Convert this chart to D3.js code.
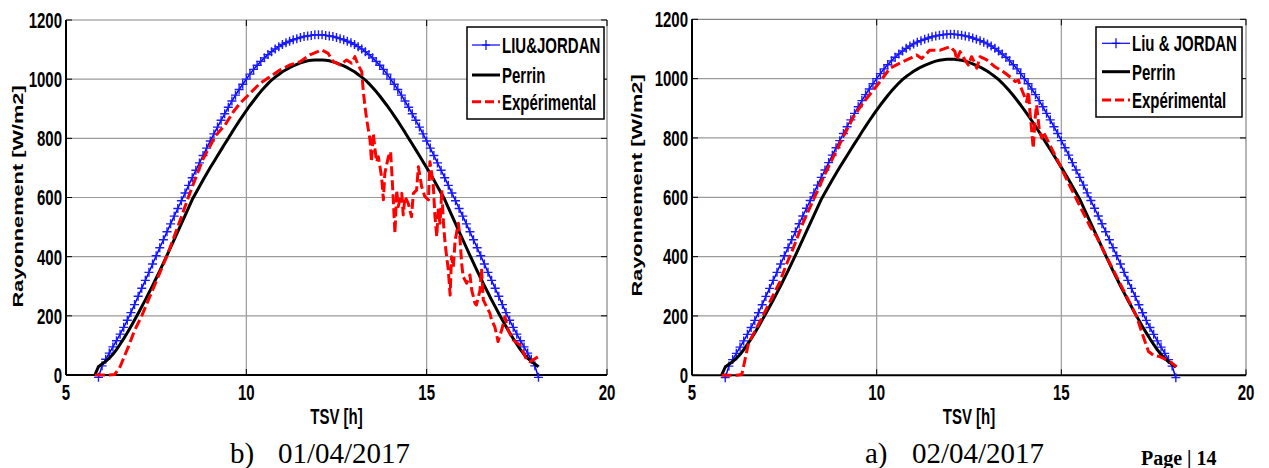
<!DOCTYPE html>
<html>
<head>
<meta charset="utf-8">
<script src="https://cdn.jsdelivr.net/npm/d3@7"></script>
<style>
  body { margin: 0; background: #ffffff; }
  svg { display: block; }
</style>
</head>
<body>
<svg id="fig" width="1269" height="468"></svg>
<script>
// ---- Data -----------------------------------------------------------------
// Solar time grid of the two models (h)
const hours = [
  5.8, 5.9, 6.0, 6.1, 6.2, 6.3, 6.4, 6.5, 6.6, 6.7, 6.8, 6.9,
  7.0, 7.1, 7.2, 7.3, 7.4, 7.5, 7.6, 7.7, 7.8, 7.9,
  8.0, 8.1, 8.2, 8.3, 8.4, 8.5, 8.6, 8.7, 8.8, 8.9,
  9.0, 9.1, 9.2, 9.3, 9.4, 9.5, 9.6, 9.7, 9.8, 9.9,
  10.0, 10.1, 10.2, 10.3, 10.4, 10.5, 10.6, 10.7, 10.8, 10.9,
  11.0, 11.1, 11.2, 11.3, 11.4, 11.5, 11.6, 11.7, 11.8, 11.9,
  12.0, 12.1, 12.2, 12.3, 12.4, 12.5, 12.6, 12.7, 12.8, 12.9,
  13.0, 13.1, 13.2, 13.3, 13.4, 13.5, 13.6, 13.7, 13.8, 13.9,
  14.0, 14.1, 14.2, 14.3, 14.4, 14.5, 14.6, 14.7, 14.8, 14.9,
  15.0, 15.1, 15.2, 15.3, 15.4, 15.5, 15.6, 15.7, 15.8, 15.9,
  16.0, 16.1, 16.2, 16.3, 16.4, 16.5, 16.6, 16.7, 16.8, 16.9,
  17.0, 17.1, 17.2, 17.3, 17.4, 17.5, 17.6, 17.7, 17.8, 17.9,
  18.0, 18.1
];

// Liu & Jordan model (W/m2)
const liuJordan = [
  null, -8, 31, 53, 74, 95, 116, 138, 161, 185, 211,
  238, 266, 293, 320, 347, 375, 403, 430, 457, 484,
  511, 537, 563, 589, 615, 641, 667, 692, 717, 742,
  767, 791, 815, 838, 861, 883, 905, 926, 946, 965,
  983, 1000, 1017, 1033, 1047, 1060, 1072, 1083, 1093, 1102,
  1110, 1117, 1123, 1128, 1133, 1137, 1141, 1144, 1146, 1148,
  1150, 1150,
  1150, 1148, 1146, 1144, 1141, 1137, 1133, 1128, 1123, 1117,
  1110, 1102, 1093, 1083, 1072, 1060, 1047, 1033, 1017, 1000,
  983, 965, 946, 926, 905, 883, 861, 838, 815, 791,
  767, 742, 717, 692, 667, 641, 615, 589, 563, 537,
  511, 484, 457, 430, 403, 375, 347, 320, 293, 266,
  238, 211, 185, 161, 138, 116, 95, 74, 53, 31, -8
];

// Perrin model (W/m2)
const perrin = [
  0, 28, 37, 46, 57, 70, 86, 104, 123, 143, 164,
  186, 208, 231, 254, 278, 302, 327, 352, 378, 404,
  431, 458, 485, 512, 539, 566, 593, 615, 637, 659,
  680, 701, 721, 741, 761, 781, 800, 820, 839, 858,
  876, 894, 911, 927, 943, 958, 972, 985, 997, 1007,
  1016, 1025, 1032, 1039, 1045, 1050, 1055, 1059, 1062, 1064,
  1065, 1065,
  1065, 1064, 1062, 1059, 1055, 1050, 1045, 1039, 1032, 1025,
  1016, 1007, 997, 985, 972, 958, 943, 927, 911, 894,
  876, 858, 839, 820, 800, 781, 761, 741, 721, 701,
  680, 659, 637, 615, 593, 566, 539, 512, 485, 458,
  431, 404, 378, 352, 327, 302, 278, 254, 231, 208,
  186, 164, 143, 123, 104, 86, 70, 57, 46, 37, 28
];

// Measurements, 01/04/2017
const hours0104 = [
  5.80, 6.00, 6.20, 6.35, 6.50, 6.73, 6.90, 7.10, 7.30, 7.50, 7.79, 8.00,
  8.20, 8.39, 8.60, 8.80, 9.00, 9.13, 9.41, 9.64, 9.82, 10.10, 10.38, 10.66,
  10.93, 11.21, 11.49, 11.76, 12.09, 12.27, 12.41, 12.60, 12.78, 12.92, 13.01, 13.10,
  13.20, 13.24, 13.29, 13.34, 13.43, 13.47, 13.52, 13.57, 13.61, 13.66, 13.75, 13.80,
  13.84, 13.94, 14.00, 14.03, 14.07, 14.12, 14.17, 14.21, 14.31, 14.35, 14.40, 14.49,
  14.58, 14.63, 14.72, 14.77, 14.86, 14.95, 15.05, 15.09, 15.18, 15.23, 15.28, 15.32,
  15.37, 15.42, 15.46, 15.51, 15.60, 15.65, 15.69, 15.74, 15.79, 15.88, 15.92, 15.97,
  16.01, 16.11, 16.20, 16.25, 16.34, 16.38, 16.48, 16.52, 16.57, 16.66, 16.75, 16.80,
  16.89, 16.98, 17.08, 17.17, 17.26, 17.40, 17.59, 17.77, 17.86, 17.95, 18.09
];
const exp0104 = [
  0, 0, 0, 2, 28, 96, 150, 200, 258, 316, 400, 468,
  535, 600, 668, 730, 775, 806, 845, 890, 918, 952, 986, 1008,
  1031, 1048, 1059, 1082, 1099, 1087, 1059, 1048, 1065, 1054, 1076, 1048,
  1025, 963, 907, 862, 794, 721, 817, 761, 721, 738, 670, 592,
  682, 738, 755, 693, 603, 479, 625, 569, 614, 541, 603, 580,
  535, 614, 625, 704, 637, 603, 592, 721, 648, 535, 468, 558,
  513, 625, 524, 445, 355, 270, 400, 366, 456, 513, 468, 378,
  333, 310, 338, 287, 242, 237, 287, 360, 254, 231, 210, 186,
  163, 113, 152, 197, 152, 118, 101, 51, 45, 51, 62
];

// Measurements, 02/04/2017
const hours0204 = [
  5.80, 6.00, 6.20, 6.35, 6.53, 6.75, 6.93, 7.15, 7.38, 7.55, 7.74, 8.00,
  8.28, 8.55, 8.83, 9.10, 9.37, 9.64, 9.91, 10.09, 10.36, 10.63, 10.90, 11.08,
  11.22, 11.44, 11.72, 11.99, 12.12, 12.17, 12.26, 12.39, 12.48, 12.57, 12.66, 12.71,
  12.80, 12.98, 13.20, 13.43, 13.66, 13.75, 13.84, 13.88, 13.97, 14.06, 14.11, 14.15,
  14.20, 14.24, 14.29, 14.33, 14.40, 14.47, 14.51, 14.60, 14.69, 14.83, 14.96, 15.05,
  15.24, 15.42, 15.60, 15.78, 15.96, 16.14, 16.50, 16.77, 17.04, 17.22, 17.36, 17.49,
  17.67, 17.94, 18.12
];
const exp0204 = [
  0, 0, 0, 3, 108, 160, 203, 258, 316, 372, 428, 512,
  590, 665, 737, 805, 871, 920, 961, 990, 1035, 1052, 1068, 1080,
  1068, 1096, 1096, 1108, 1091, 1063, 1091, 1063, 1046, 1074, 1052, 1035,
  1074, 1063, 1040, 1023, 1001, 990, 995, 978, 950, 922, 956, 888,
  821, 765, 866, 911, 832, 799, 821, 799, 776, 742, 709, 685,
  636, 591, 546, 501, 466, 420, 332, 265, 197, 130, 80, 68,
  63, 46, 29
];

const xTicks = [5, 10, 15, 20];
const yTicks = [0, 200, 400, 600, 800, 1000, 1200];
const legendLeft = ["LIU&JORDAN", "Perrin", "Expérimental"];
const legendRight = ["Liu & JORDAN", "Perrin", "Expérimental"];
const captionLetters = ["b)", "a)"];
const captionDates = ["01/04/2017", "02/04/2017"];
const xTitle = "TSV [h]";
const yTitle = "Rayonnement [W/m2]";
const footer = "Page | 14";

// ---- Drawing ----------------------------------------------------------------
const svg = d3.select("#fig");
const SANS = "'Liberation Sans', Arial, Helvetica, sans-serif";
const SERIF = "'Liberation Serif', 'Times New Roman', serif";
const STRETCH = 1.45;   // the figure text is drawn tall and narrow

function tallText(g, x, y, str, anchor, dy) {
  return g.append("text")
    .attr("transform", `translate(${x},${y}) scale(1,${STRETCH})`)
    .attr("text-anchor", anchor)
    .attr("dy", dy || 0)
    .attr("font-family", SANS)
    .attr("font-weight", "bold")
    .attr("font-size", 15)
    .attr("fill", "#000")
    .text(str);
}

const panels = [
  {
    left: 66, right: 607, top: 20, bottom: 375,
    expHours: hours0104, exp: exp0104, legend: legendLeft,
    box: { x: 467, y: 27, w: 137, h: 92, rows: [45, 75, 101.7], sx0: 472, sx1: 500, tx: 502 },
    yTitle: { x: 23, y: 196.5 }, xTitleY: 424,
    caption: { lx: 230, dx: 278, y: 463 }
  },
  {
    left: 692, right: 1246, top: 19.3, bottom: 375.3,
    expHours: hours0204, exp: exp0204, legend: legendRight,
    box: { x: 1096, y: 27, w: 146, h: 90, rows: [43.3, 71.7, 100], sx0: 1102, sx1: 1130, tx: 1132 },
    yTitle: { x: 641.7, y: 185.5 }, xTitleY: 424,
    caption: { lx: 865, dx: 912, y: 463 }
  }
];

const PLUS = "M-4.5,0H4.5M0,-4.5V4.5";

panels.forEach((p, i) => {
  const g = svg.append("g");
  const x = d3.scaleLinear().domain([5, 20]).range([p.left, p.right]);
  const y = d3.scaleLinear().domain([0, 1200]).range([p.bottom, p.top]);

  // grid
  g.append("g").selectAll("line").data(xTicks.slice(1, -1)).join("line")
    .attr("x1", d => x(d)).attr("x2", d => x(d))
    .attr("y1", p.top).attr("y2", p.bottom)
    .attr("stroke", "#9a9a9a").attr("stroke-width", 1.2);
  g.append("g").selectAll("line").data(yTicks.slice(1, -1)).join("line")
    .attr("x1", p.left).attr("x2", p.right)
    .attr("y1", d => y(d)).attr("y2", d => y(d))
    .attr("stroke", "#9a9a9a").attr("stroke-width", 1.2);

  // frame: top and right in grey, axes in black
  g.append("line").attr("x1", p.left).attr("x2", p.right).attr("y1", p.top).attr("y2", p.top)
    .attr("stroke", "#858585").attr("stroke-width", 1.2);
  g.append("line").attr("x1", p.right).attr("x2", p.right).attr("y1", p.top).attr("y2", p.bottom)
    .attr("stroke", "#858585").attr("stroke-width", 1.2);

  // inward tick marks on all four sides
  const tk = g.append("g").attr("stroke", "#000").attr("stroke-width", 1);
  xTicks.forEach(v => {
    tk.append("line").attr("x1", x(v)).attr("x2", x(v)).attr("y1", p.bottom).attr("y2", p.bottom - 6);
    tk.append("line").attr("x1", x(v)).attr("x2", x(v)).attr("y1", p.top).attr("y2", p.top + 6);
  });
  yTicks.forEach(v => {
    tk.append("line").attr("x1", p.left).attr("x2", p.left + 6).attr("y1", y(v)).attr("y2", y(v));
    tk.append("line").attr("x1", p.right).attr("x2", p.right - 6).attr("y1", y(v)).attr("y2", y(v));
  });

  g.append("line").attr("x1", p.left).attr("x2", p.left).attr("y1", p.top).attr("y2", p.bottom)
    .attr("stroke", "#000").attr("stroke-width", 2);
  g.append("line").attr("x1", p.left).attr("x2", p.right).attr("y1", p.bottom).attr("y2", p.bottom)
    .attr("stroke", "#000").attr("stroke-width", 2);

  // tick labels
  yTicks.forEach(v => tallText(g, p.left - 4, y(v), String(v), "end", "0.36em"));
  xTicks.forEach(v => tallText(g, x(v), 400, String(v), "middle"));

  // axis titles
  tallText(g, (p.left + p.right) / 2, p.xTitleY, xTitle, "middle");
  g.append("text")
    .attr("transform", `translate(${p.yTitle.x},${p.yTitle.y}) rotate(-90) scale(${STRETCH},1)`)
    .attr("text-anchor", "middle")
    .attr("font-family", SANS).attr("font-weight", "bold").attr("font-size", 15)
    .text(yTitle);

  // series
  const liuPts = hours.map((h, k) => [h, liuJordan[k]]).filter(d => d[1] !== null);
  const perPts = hours.map((h, k) => [h, perrin[k]]);
  const expPts = p.expHours.map((h, k) => [h, p.exp[k]]);
  const line = d3.line().x(d => x(d[0])).y(d => y(d[1]));

  g.append("path").attr("d", line(liuPts))
    .attr("fill", "none").attr("stroke", "#0000ff").attr("stroke-width", 1.5);
  g.append("g").selectAll("path").data(liuPts).join("path")
    .attr("transform", d => `translate(${x(d[0])},${y(d[1])})`)
    .attr("d", PLUS)
    .attr("stroke", "#1a1aff").attr("stroke-width", 1.4);

  g.append("path").attr("d", line(perPts))
    .attr("fill", "none").attr("stroke", "#000").attr("stroke-width", 3)
    .attr("stroke-linejoin", "round");

  g.append("path").attr("d", line(expPts))
    .attr("fill", "none").attr("stroke", "#ff0000").attr("stroke-width", 3)
    .attr("stroke-dasharray", "10,4").attr("stroke-linejoin", "round");

  // legend
  const b = p.box;
  const lg = g.append("g");
  lg.append("rect").attr("x", b.x).attr("y", b.y).attr("width", b.w).attr("height", b.h)
    .attr("fill", "#fff").attr("stroke", "#000").attr("stroke-width", 1.5);
  lg.append("line").attr("x1", b.sx0).attr("x2", b.sx1).attr("y1", b.rows[0]).attr("y2", b.rows[0])
    .attr("stroke", "#0000ff").attr("stroke-width", 1.2);
  lg.append("path").attr("transform", `translate(${(b.sx0 + b.sx1) / 2},${b.rows[0]})`)
    .attr("d", "M-4,0H4M0,-5V5").attr("stroke", "#0000ff").attr("stroke-width", 1.2);
  lg.append("line").attr("x1", b.sx0).attr("x2", b.sx1).attr("y1", b.rows[1]).attr("y2", b.rows[1])
    .attr("stroke", "#000").attr("stroke-width", 3);
  lg.append("line").attr("x1", b.sx0).attr("x2", b.sx1).attr("y1", b.rows[2]).attr("y2", b.rows[2])
    .attr("stroke", "#ff0000").attr("stroke-width", 3).attr("stroke-dasharray", "9,4");
  p.legend.forEach((txt, k) => tallText(lg, b.tx, b.rows[k], txt, "start", "0.36em"));

  // caption under the panel
  svg.append("text").attr("x", p.caption.lx).attr("y", p.caption.y)
    .attr("font-family", SERIF).attr("font-size", 29).text(captionLetters[i]);
  svg.append("text").attr("x", p.caption.dx).attr("y", p.caption.y)
    .attr("font-family", SERIF).attr("font-size", 29).text(captionDates[i]);
});

svg.append("text").attr("x", 1141).attr("y", 465)
  .attr("font-family", SERIF).attr("font-weight", "bold").attr("font-size", 20)
  .text(footer);
</script>
</body>
</html>
